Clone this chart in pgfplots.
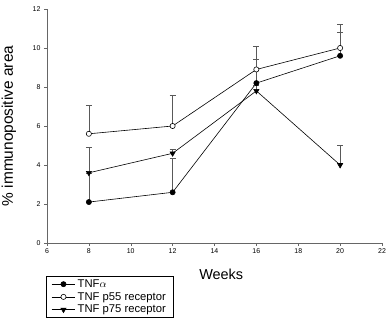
\documentclass[border=0pt]{standalone}
\usepackage{pgfplots}
\pgfplotsset{compat=1.18}
\usepackage{fontspec}
\setmainfont{Liberation Sans}
\begin{document}
\begin{tikzpicture}
\useasboundingbox (-47bp,-85bp) rectangle (344bp,243bp);
\begin{axis}[
  at={(0,0)}, anchor=origin,
  scale only axis, width=335bp, height=234bp,
  xmin=6, xmax=22, ymin=0, ymax=12,
  xtick={6,8,...,22}, ytick={0,2,...,12},
  axis x line*=bottom, axis y line*=left,
  axis line style={gray!80!black, line width=0.5pt},
  tick align=outside, major tick length=3bp,
  tick style={gray!80!black, line width=0.5pt},
  /pgf/number format/assume math mode=true,
  tick label style={font=\fontsize{7}{8}\selectfont},
  xticklabel style={yshift=1bp},
  xlabel={Weeks},
  xlabel style={font=\fontsize{14.5}{16}\selectfont, at={(rel axis cs:0.52,0)}, anchor=north, yshift=-23bp},
  ylabel={\% immunopositive area},
  ylabel style={font=\fontsize{15.5}{17}\selectfont, at={(rel axis cs:0,0.5)}, anchor=center, yshift=38bp},
  legend style={at={(rel axis cs:-0.003,-0.14)}, anchor=north west, draw=black, line width=0.6pt,
    font=\fontsize{11.3}{12}\selectfont, row sep=-0.5pt, inner xsep=5pt, inner ysep=1.5pt},
  legend cell align=left,
  legend image code/.code={\draw[mark repeat=2,mark phase=2] plot coordinates {(0cm,0cm)(0.42cm,0cm)(0.84cm,0cm)};},
  error bars/error bar style={gray!70!black, line width=0.5pt},
  error bars/error mark options={rotate=90, mark size=3bp, line width=0.6pt},
]
\addplot[black, line width=0.6pt, mark=*, mark size=2.6bp, mark options={fill=black, draw=black},
  error bars/.cd, y dir=plus, y explicit]
  table[x=x, y=y, y error=e] {
x y e
8 2.1 1.5
12 2.6 1.74
16 8.2 1.2
20 9.6 1.2
};
\addlegendentry{TNF$\alpha$}
\addplot[black, line width=0.6pt, mark=*, mark size=2.6bp, mark options={fill=white, draw=black},
  error bars/.cd, y dir=plus, y explicit]
  table[x=x, y=y, y error=e] {
x y e
8 5.6 1.45
12 6.0 1.6
16 8.9 1.2
20 10.0 1.2
};
\addlegendentry{TNF p55 receptor}
\addplot[black, line width=0.6pt, mark=triangle*, mark size=3bp, mark options={fill=black, draw=black, rotate=180},
  error bars/.cd, y dir=plus, y explicit]
  table[x=x, y=y, y error=e] {
x y e
8 3.6 1.3
12 4.6 0.2
16 7.8 0.3
20 4.0 1.0
};
\addlegendentry{TNF p75 receptor}
\end{axis}
\end{tikzpicture}
\end{document}
